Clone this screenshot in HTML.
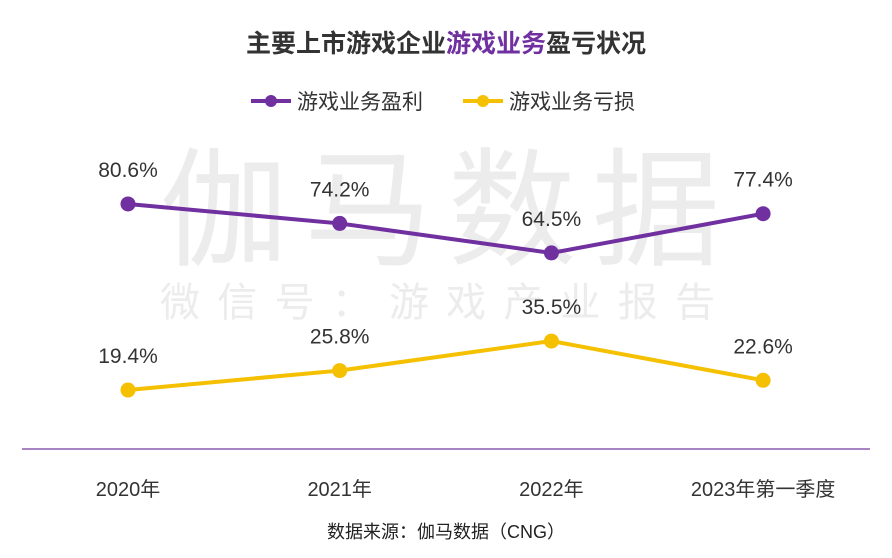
<!DOCTYPE html>
<html><head><meta charset="utf-8"><style>
body{margin:0;background:#fff;}
svg{display:block;font-family:"Liberation Sans","Noto Sans CJK SC",sans-serif;}
</style></head><body>
<svg id="chart" width="892" height="558" viewBox="0 0 892 558">
<text x="160" y="255" font-size="128" fill="#ececec" textLength="560" lengthAdjust="spacing">伽马数据</text>
<text x="160" y="316" font-size="40" fill="#ececec" textLength="555" lengthAdjust="spacing">微信号：游戏产业报告</text>
<text x="446" y="52" font-size="25" font-weight="bold" fill="#333" text-anchor="middle">主要上市游戏企业<tspan fill="#7030a0">游戏业务</tspan>盈亏状况</text>
<g>
<line x1="251" y1="101" x2="291" y2="101" stroke="#7030a0" stroke-width="4"/>
<circle cx="271" cy="101" r="6" fill="#7030a0"/>
<text x="297" y="109" font-size="21" fill="#333">游戏业务盈利</text>
</g>
<g>
<line x1="463" y1="101" x2="503" y2="101" stroke="#f5c000" stroke-width="4"/>
<circle cx="483" cy="101" r="6" fill="#f5c000"/>
<text x="509" y="109" font-size="21" fill="#333">游戏业务亏损</text>
</g>
<line x1="22" y1="449" x2="870" y2="449" stroke="#8a5bb0" stroke-width="1.5"/>
<g id="marks"></g>
<text x="446" y="538" font-size="18" fill="#222" text-anchor="middle">数据来源：伽马数据（CNG）</text>
</svg>
<script>
const categories = ["2020年","2021年","2022年","2023年第一季度"];
const profitValues = [80.6,74.2,64.5,77.4];
const lossValues = [19.4,25.8,35.5,22.6];
const ns="http://www.w3.org/2000/svg";
const g=document.getElementById('marks');
function xPos(i){return 128+i*211.7;}
function yPos(v){return 449-v*3.04;}
function mk(t,a){const e=document.createElementNS(ns,t);for(const k in a)e.setAttribute(k,a[k]);g.appendChild(e);return e;}
categories.forEach((c,i)=>{
  const t=mk('text',{x:xPos(i),y:496,'font-size':20,fill:'#333','text-anchor':'middle'});
  t.textContent=c;
  
  
});
function series(vals,color,name,labelAbove){
  const pl=mk('polyline',{points:vals.map((v,i)=>xPos(i)+','+yPos(v)).join(' '),fill:'none',stroke:color,'stroke-width':4});
  
  
  vals.forEach((v,i)=>{
    const c=mk('circle',{cx:xPos(i),cy:yPos(v),r:7.5,fill:color});
    
    
    const t=mk('text',{x:xPos(i),y:yPos(v)-27,'font-size':21,fill:'#333','text-anchor':'middle'});
    t.textContent=v.toFixed(1)+'%';
    
    
  });
}
series(profitValues,'#7030a0','profit',true);
series(lossValues,'#f5c000','loss',true);
</script>
</body></html>
